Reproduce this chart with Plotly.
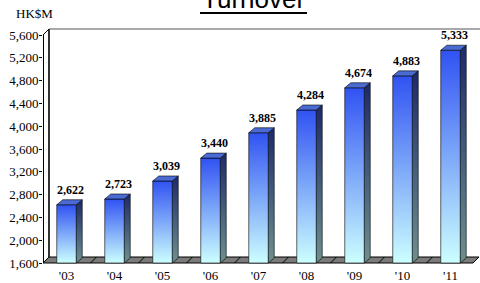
import plotly.graph_objects as go

# ---- data ----
years = ["'03", "'04", "'05", "'06", "'07", "'08", "'09", "'10", "'11"]
turnover = [2622, 2723, 3039, 3440, 3885, 4284, 4674, 4883, 5333]
y_ticks = [1600, 2000, 2400, 2800, 3200, 3600, 4000, 4400, 4800, 5200, 5600]
title_text = "Turnover"
unit_text = "HK$M"

# ---- style constants ----
W, H = 480, 283
L_MARGIN, T_MARGIN, B_MARGIN = 43, 28, 19
Y_BASE = 1600
Y_TOP = 5600
PX_PER_UNIT_Y = 228 / 4000.0
PX_PER_CAT = 48.0
y_lo = Y_BASE - (B_MARGIN - 18) / PX_PER_UNIT_Y  # plot bottom one px below base
y_hi = Y_TOP + 7 / PX_PER_UNIT_Y
x_lo = -(66.5 - L_MARGIN) / PX_PER_CAT
x_hi = (len(years) - 1) + (480 - 450.5) / PX_PER_CAT

HALF_W = 0.203          # half width of front face (category units)
BDX = 6 / PX_PER_CAT    # bar depth offset x
BDY = 5 / PX_PER_UNIT_Y # bar depth offset y
FDX = 6 / PX_PER_CAT    # floor/wall depth x
FDY = 6 / PX_PER_UNIT_Y # floor/wall depth y
floor_right = (len(years) - 1) + (473 - 450.5) / PX_PER_CAT

FRONT_SCALE = [[0, "#ccffff"], [1, "#3052f2"]]
SIDE_SCALE = [[0, "#6d9090"], [1, "#1b2a6b"]]
TOP_COLOR = "#4a6bd4"
SERIF = "Liberation Serif, Times New Roman, serif"
SANS = "Liberation Sans, Arial, sans-serif"

fig = go.Figure()

for i, v in enumerate(turnover):
    x0, x1 = i - HALF_W, i + HALF_W
    # side face
    fig.add_trace(go.Scatter(
        x=[x1, x1 + BDX, x1 + BDX, x1, x1],
        y=[Y_BASE, Y_BASE + BDY, v + BDY, v, Y_BASE],
        mode="lines", fill="toself",
        line=dict(color="#000000", width=0.6),
        fillgradient=dict(type="vertical", colorscale=SIDE_SCALE,
                          start=Y_BASE, stop=v + BDY),
        hoverinfo="skip", showlegend=False))
    # front face
    fig.add_trace(go.Scatter(
        x=[x0, x1, x1, x0, x0],
        y=[Y_BASE, Y_BASE, v, v, Y_BASE],
        mode="lines", fill="toself",
        line=dict(color="#000000", width=0.6),
        fillgradient=dict(type="vertical", colorscale=FRONT_SCALE,
                          start=Y_BASE, stop=v),
        hoverinfo="skip", showlegend=False))
    # top face
    fig.add_trace(go.Scatter(
        x=[x0, x1, x1 + BDX, x0 + BDX, x0],
        y=[v, v, v + BDY, v + BDY, v],
        mode="lines", fill="toself", fillcolor=TOP_COLOR,
        line=dict(color="#000000", width=0.6),
        hoverinfo="skip", showlegend=False))
    fig.add_annotation(x=i + 0.09, y=v, text=f"<b>{v:,}</b>", showarrow=False,
                       yshift=15, font=dict(family=SERIF, size=12, color="#000"))

shapes = []
# floor slab
shapes.append(dict(type="path", layer="below",
                   path=f"M {x_lo},{Y_BASE} L {floor_right},{Y_BASE} L {floor_right + FDX},{Y_BASE + FDY} "
                        f"L {x_lo + FDX},{Y_BASE + FDY} Z",
                   fillcolor="#7b7b7b", line=dict(color="#000000", width=1)))
for i in range(len(years) - 1):
    b = i + 0.5
    shapes.append(dict(type="line", layer="below", x0=b, y0=Y_BASE, x1=b + FDX, y1=Y_BASE + FDY,
                       line=dict(color="#000000", width=1)))
# back wall left edge
shapes.append(dict(type="line", layer="below", x0=x_lo + FDX, y0=Y_BASE + FDY, x1=x_lo + FDX, y1=Y_TOP + FDY,
                   line=dict(color="#000000", width=1.6)))
# back wall top edge
shapes.append(dict(type="line", layer="below", x0=x_lo + FDX, y0=Y_TOP + FDY, x1=x_hi, y1=Y_TOP + FDY,
                   line=dict(color="#555555", width=1.2)))
# diagonal corner
shapes.append(dict(type="line", layer="below", x0=x_lo, y0=Y_TOP, x1=x_lo + FDX, y1=Y_TOP + FDY,
                   line=dict(color="#000000", width=1)))
# front value axis line
shapes.append(dict(type="line", layer="above", x0=x_lo, y0=Y_BASE, x1=x_lo, y1=Y_TOP,
                   line=dict(color="#000000", width=2)))
# title underline
shapes.append(dict(type="line", xref="paper", yref="paper",
                   x0=(200 - L_MARGIN) / (W - L_MARGIN), x1=(307 - L_MARGIN) / (W - L_MARGIN),
                   y0=1 + (T_MARGIN - 13) / (H - T_MARGIN - B_MARGIN),
                   y1=1 + (T_MARGIN - 13) / (H - T_MARGIN - B_MARGIN),
                   line=dict(color="#000000", width=2)))

plot_h = H - T_MARGIN - B_MARGIN
fig.add_annotation(xref="paper", yref="paper", x=(253 - L_MARGIN) / (W - L_MARGIN),
                   y=1 + (T_MARGIN + 1) / plot_h, yanchor="middle", xanchor="center",
                   text=title_text, showarrow=False,
                   font=dict(family=SANS, size=26, color="#000"))
fig.add_annotation(xref="paper", yref="paper", x=(34 - L_MARGIN) / (W - L_MARGIN),
                   y=1 + (T_MARGIN - 14) / plot_h, yanchor="middle", xanchor="center",
                   text=unit_text, showarrow=False,
                   font=dict(family=SERIF, size=13, color="#000"))

fig.update_layout(
    width=W, height=H,
    margin=dict(l=L_MARGIN, r=0, t=T_MARGIN, b=B_MARGIN, pad=0),
    paper_bgcolor="#ffffff", plot_bgcolor="#ffffff",
    shapes=shapes,
    xaxis=dict(range=[x_lo, x_hi], tickmode="array", tickvals=list(range(len(years))),
               ticktext=years, showgrid=False, zeroline=False, showline=False, ticks="",
               ticklabelstandoff=2,
               tickfont=dict(family=SERIF, size=13, color="#000"), fixedrange=True),
    yaxis=dict(range=[y_lo, y_hi], tickmode="array", tickvals=y_ticks,
               ticktext=[f"{t:,}" for t in y_ticks], showgrid=False, zeroline=False,
               showline=False, ticks="outside", ticklen=3, tickcolor="#000",
               ticklabelstandoff=-2,
               tickfont=dict(family=SERIF, size=13, color="#000"), fixedrange=True),
)

fig.write_html(
    "out.html",
    config={"displayModeBar": False},
    post_script="document.body.style.margin='0';document.body.style.overflow='hidden';",
)
